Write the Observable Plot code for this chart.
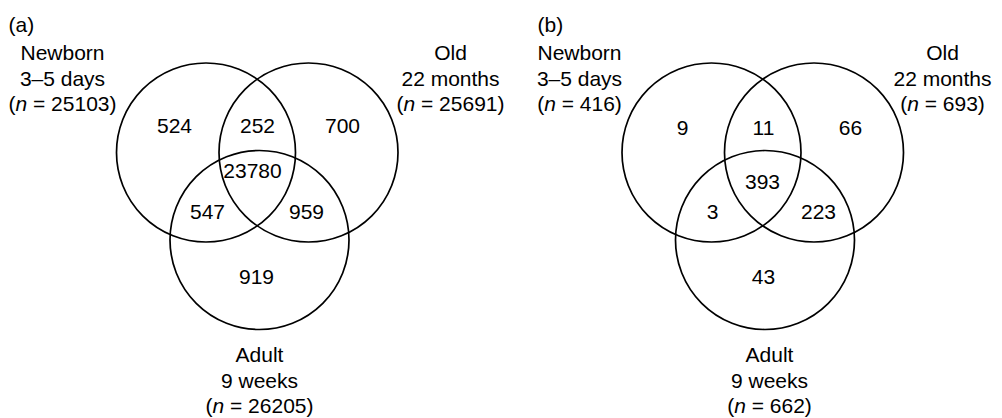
<!DOCTYPE html>
<html>
<head>
<meta charset="utf-8">
<script src="https://cdn.jsdelivr.net/npm/d3@7"></script>
<script src="https://cdn.jsdelivr.net/npm/@observablehq/plot@0.6"></script>
<style>
  html, body { margin: 0; padding: 0; background: #fff; }
  #chart svg { display: block; }
</style>
</head>
<body>
<div id="chart"></div>
<script>
// ---- Data ----
const panels = ["(a)", "(b)"];
const setNames = ["Newborn", "Old", "Adult"];
const setPeriods = ["3–5 days", "22 months", "9 weeks"];
const setTotalsA = [25103, 25691, 26205];
const setTotalsB = [416, 693, 662];
const regionNames = ["Newborn only", "Newborn∩Old", "Old only", "All three", "Newborn∩Adult", "Old∩Adult", "Adult only"];
const countsA = [524, 252, 700, 23780, 547, 959, 919];
const countsB = [9, 11, 66, 393, 3, 223, 43];

// ---- Layout (diagram geometry, in page units) ----
const layout = {
  radius: 89.5,
  panels: [
    {
      tag: [8, 25],
      circles: [[205.5, 152], [308, 152], [259, 239.5]],
      labels: [[62, 53], [450, 53], [259, 355]],
      regions: [[174, 126], [257, 126], [342, 126], [252, 171], [207, 212], [306, 212], [256, 277]]
    },
    {
      tag: [537, 25],
      circles: [[711, 152], [813.5, 152], [764.5, 239.5]],
      labels: [[579, 53], [942, 53], [769, 355]],
      regions: [[682, 128], [763, 128], [850, 128], [762, 182], [712, 212], [818, 212], [763, 277]]
    }
  ],
  lineStep: 25.5
};

// ---- Build tables ----
const totals = [setTotalsA, setTotalsB];
const counts = [countsA, countsB];
const circles = [], regionLabels = [], setLabels = [], tags = [];
panels.forEach((p, i) => {
  const L = layout.panels[i];
  tags.push({text: p, x: L.tag[0], y: L.tag[1]});
  setNames.forEach((s, j) => {
    circles.push({panel: p, set: s, x: L.circles[j][0], y: L.circles[j][1]});
    const lines = [s, setPeriods[j], `(n = ${totals[i][j]})`];
    lines.forEach((t, k) => setLabels.push({text: t, x: L.labels[j][0], y: L.labels[j][1] + k * layout.lineStep}));
  });
  regionNames.forEach((r, j) => {
    regionLabels.push({region: r, text: String(counts[i][j]), x: L.regions[j][0], y: L.regions[j][1]});
  });
});

const font = "'Liberation Sans', Arial, Helvetica, sans-serif";
const fs = 21;

const chart = Plot.plot({
  width: 1002,
  height: 418,
  margin: 0,
  x: {domain: [0, 1002], range: [0, 1002], axis: null},
  y: {domain: [0, 418], range: [0, 418], axis: null},
  style: {fontFamily: font, background: "#fff", color: "#000"},
  marks: [
    Plot.dot(circles, {x: "x", y: "y", r: layout.radius, fill: "none", stroke: "#000", strokeWidth: 1.7}),
    Plot.text(regionLabels, {x: "x", y: "y", text: "text", fontSize: fs, fill: "#000", textAnchor: "middle", lineAnchor: "middle"}),
    Plot.text(setLabels, {x: "x", y: "y", text: "text", fontSize: fs, fill: "#000", textAnchor: "middle", lineAnchor: "middle"}),
    Plot.text(tags, {x: "x", y: "y", text: "text", fontSize: fs, fill: "#000", textAnchor: "start", lineAnchor: "middle"})
  ]
});

// italicise the "n" in the (n = …) labels
chart.querySelectorAll("text").forEach(t => {
  const m = /^\(n = (.*)\)$/.exec(t.textContent);
  if (!m) return;
  t.textContent = "";
  const ns = "http://www.w3.org/2000/svg";
  const a = document.createElementNS(ns, "tspan"); a.textContent = "(";
  const b = document.createElementNS(ns, "tspan"); b.textContent = "n"; b.setAttribute("font-style", "italic");
  const c = document.createElementNS(ns, "tspan"); c.textContent = " = " + m[1] + ")";
  t.append(a, b, c);
});

document.getElementById("chart").append(chart);
</script>
</body>
</html>
